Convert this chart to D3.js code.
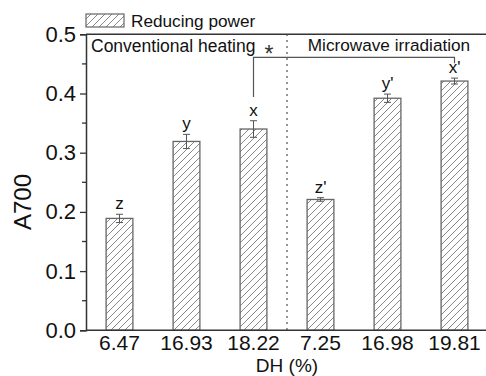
<!DOCTYPE html>
<html>
<head>
<meta charset="utf-8">
<script src="https://cdn.jsdelivr.net/npm/d3@7"></script>
<style>
  body { margin: 0; background: #fff; }
  svg { display: block; font-family: Arial, "Liberation Sans", sans-serif; }
</style>
</head>
<body>
<div id="chart"></div>
<script>
// Data
var dhLabels = ["6.47", "16.93", "18.22", "7.25", "16.98", "19.81"];
var a700 = [0.189, 0.319, 0.340, 0.221, 0.392, 0.421];
var errs = [0.007, 0.012, 0.014, 0.003, 0.007, 0.005];
var letters = ["z", "y", "x", "z'", "y'", "x'"];
var yTicks = [0.0, 0.1, 0.2, 0.3, 0.4, 0.5];

var width = 486, height = 376;
var margin = { top: 34, right: -2, bottom: 46, left: 86 };

var svg = d3.select("#chart")
    .append("svg")
    .attr("width", width)
    .attr("height", height);

// hatch pattern for bars
var defs = svg.append("defs");
var pat = defs.append("pattern")
    .attr("id", "hatch")
    .attr("patternUnits", "userSpaceOnUse")
    .attr("width", 7)
    .attr("height", 7);
pat.append("rect").attr("width", 7).attr("height", 7).attr("fill", "#fff");
pat.append("path")
    .attr("d", "M-1,8 L8,-1 M-1,1 L1,-1 M6,8 L8,6")
    .attr("stroke", "#7a7a7a")
    .attr("stroke-width", 0.9);

var xScale = d3.scaleBand()
    .domain(dhLabels.map((d, i) => i))
    .range([margin.left, width - margin.right])
    .paddingInner(0.6)
    .paddingOuter(0.3);

var yScale = d3.scaleLinear()
    .domain([0, 0.5])
    .range([height - margin.bottom + 0.3, margin.top + 0.3]);

// y axis with minor ticks
var yAxis = svg.append("g")
    .attr("transform", "translate(" + margin.left + ",0)")
    .call(d3.axisLeft(yScale).tickValues(yTicks).tickFormat(d3.format(".1f")).tickSize(6).tickPadding(4));
yAxis.select(".domain").attr("stroke", "#333").attr("stroke-width", 1.5);
yAxis.selectAll(".tick line").attr("stroke", "#333").attr("stroke-width", 1.3);
yAxis.selectAll("text").attr("font-size", 22).attr("fill", "#111");

svg.append("g")
    .selectAll("line")
    .data(d3.range(0.05, 0.5, 0.1))
    .enter()
    .append("line")
    .attr("x1", margin.left - 4)
    .attr("x2", margin.left)
    .attr("y1", d => yScale(d))
    .attr("y2", d => yScale(d))
    .attr("stroke", "#333")
    .attr("stroke-width", 1.3);

// top frame line
svg.append("line")
    .attr("x1", margin.left).attr("x2", width)
    .attr("y1", yScale(0.5)).attr("y2", yScale(0.5))
    .attr("stroke", "#333").attr("stroke-width", 1.5);

// bars
svg.append("g")
    .selectAll("rect")
    .data(a700)
    .enter()
    .append("rect")
    .attr("x", (d, i) => xScale(i))
    .attr("y", d => yScale(d))
    .attr("width", xScale.bandwidth())
    .attr("height", d => yScale(0) - yScale(d))
    .attr("fill", "url(#hatch)")
    .attr("stroke", "#666")
    .attr("stroke-width", 1.3);

// error bars
var eb = svg.append("g").attr("stroke", "#555").attr("stroke-width", 1);
a700.forEach(function (v, i) {
    var cx = xScale(i) + xScale.bandwidth() / 2;
    eb.append("line").attr("x1", cx).attr("x2", cx)
        .attr("y1", yScale(v + errs[i])).attr("y2", yScale(v - errs[i]));
    [v + errs[i], v - errs[i]].forEach(function (e) {
        eb.append("line").attr("x1", cx - 3.5).attr("x2", cx + 3.5)
            .attr("y1", yScale(e)).attr("y2", yScale(e));
    });
});

// significance letters
svg.append("g")
    .selectAll("text")
    .data(letters)
    .enter()
    .append("text")
    .attr("x", (d, i) => xScale(i) + xScale.bandwidth() / 2)
    .attr("y", (d, i) => yScale(a700[i] + errs[i]) - 5)
    .attr("text-anchor", "middle")
    .attr("font-size", 17)
    .attr("fill", "#111")
    .text(d => d);

// x axis (no ticks)
svg.append("line")
    .attr("x1", margin.left).attr("x2", width)
    .attr("y1", yScale(0)).attr("y2", yScale(0))
    .attr("stroke", "#333").attr("stroke-width", 1.5);

svg.append("g")
    .selectAll("text")
    .data(dhLabels)
    .enter()
    .append("text")
    .attr("x", (d, i) => xScale(i) + xScale.bandwidth() / 2)
    .attr("y", yScale(0) + 20)
    .attr("text-anchor", "middle")
    .attr("font-size", 21)
    .attr("fill", "#111")
    .text(d => d);

// axis titles
svg.append("text")
    .attr("x", (margin.left + width) / 2 + 1)
    .attr("y", 371.8)
    .attr("text-anchor", "middle")
    .attr("font-size", 19)
    .attr("fill", "#111")
    .text("DH (%)");

svg.append("text")
    .attr("transform", "translate(31,202) rotate(-90)")
    .attr("text-anchor", "middle")
    .attr("font-size", 24)
    .attr("fill", "#111")
    .text("A700");

// dotted divider between the two groups
var divX = (xScale(2) + xScale(3) + xScale.bandwidth()) / 2;
svg.append("line")
    .attr("x1", divX).attr("x2", divX)
    .attr("y1", yScale(0.5)).attr("y2", yScale(0))
    .attr("stroke", "#444")
    .attr("stroke-width", 1.5)
    .attr("stroke-dasharray", "1.5,4.5");

// group labels
svg.append("text")
    .attr("x", margin.left + 5).attr("y", 51.5)
    .attr("font-size", 17.5).attr("fill", "#111")
    .text("Conventional heating");
svg.append("text")
    .attr("x", 389).attr("y", 51)
    .attr("text-anchor", "middle")
    .attr("font-size", 17.2).attr("fill", "#111")
    .text("Microwave irradiation");

// significance bracket between x and x'
var c3 = xScale(2) + xScale.bandwidth() / 2;
var c6 = xScale(5) + xScale.bandwidth() / 2;
svg.append("path")
    .attr("d", "M" + c3 + "," + yScale(0.394) + "V" + yScale(0.461) + "H" + c6 + "V" + yScale(0.451))
    .attr("fill", "none")
    .attr("stroke", "#555")
    .attr("stroke-width", 1.2);
svg.append("text")
    .attr("x", 269).attr("y", 62)
    .attr("text-anchor", "middle")
    .attr("font-size", 23)
    .attr("fill", "#333")
    .text("*");

// legend
svg.append("rect")
    .attr("x", 86).attr("y", 14)
    .attr("width", 38).attr("height", 13)
    .attr("fill", "url(#hatch)")
    .attr("stroke", "#666")
    .attr("stroke-width", 1.2);
svg.append("text")
    .attr("x", 131).attr("y", 27)
    .attr("font-size", 17.2)
    .attr("fill", "#111")
    .text("Reducing power");
</script>
</body>
</html>
